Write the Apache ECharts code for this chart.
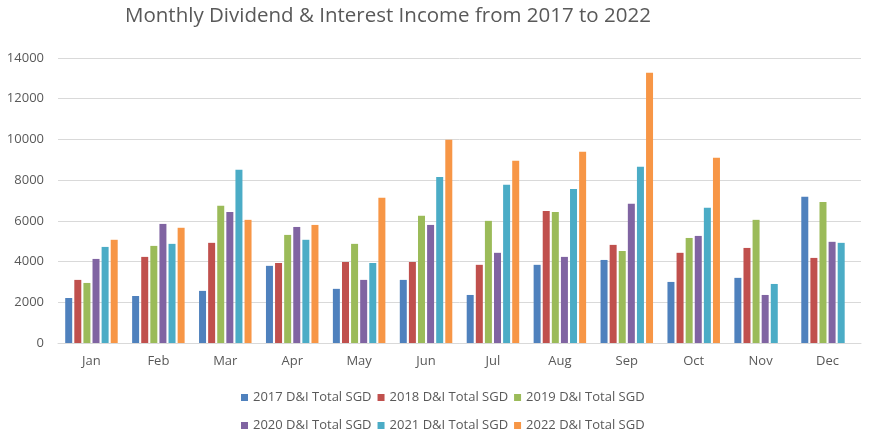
<!DOCTYPE html>
<html>
<head>
<meta charset="utf-8">
<script src="https://cdn.jsdelivr.net/npm/echarts@6/dist/echarts.min.js"></script>
<style>html,body{margin:0;padding:0;background:#fff}#c{width:878px;height:442px}</style>
</head>
<body>
<div id="c"></div>
<script>
const months = ["Jan","Feb","Mar","Apr","May","Jun","Jul","Aug","Sep","Oct","Nov","Dec"];
const seriesNames = ["2017 D&I Total SGD","2018 D&I Total SGD","2019 D&I Total SGD","2020 D&I Total SGD","2021 D&I Total SGD","2022 D&I Total SGD"];
const y2017 = [2210,2310,2560,3790,2660,3100,2360,3840,4080,3000,3200,7180];
const y2018 = [3100,4230,4920,3930,3980,3980,3840,6490,4820,4430,4670,4180];
const y2019 = [2950,4770,6740,5310,4870,6250,6000,6440,4520,5160,6050,6930];
const y2020 = [4130,5850,6440,5700,3100,5800,4430,4230,6840,5260,2360,4970];
const y2021 = [4720,4870,8510,5070,3930,8160,7770,7570,8660,6640,2900,4920];
const y2022 = [5070,5660,6050,5800,7130,9980,8950,9390,13280,9100,null,null];
const colors = ["#4f81bd","#c0504d","#9bbb59","#8064a2","#4bacc6","#f79646"];
const allData = [y2017,y2018,y2019,y2020,y2021,y2022];

const font = "'Open Sans', 'Liberation Sans', sans-serif";
const chart = echarts.init(document.getElementById('c'));
const legendText = {fontFamily: font, fontSize: 13, color: '#595959'};
chart.setOption({
  animation: false,
  color: colors,
  title: {
    text: "Monthly Dividend & Interest Income from 2017 to 2022",
    left: 120, top: 1,
    textStyle: {fontFamily: font, fontSize: 20.5, fontWeight: 'normal', color: '#595959'}
  },
  legend: [
    {data: seriesNames.slice(0,3), left: 236, top: 386, itemWidth: 7, itemHeight: 7, itemGap: 6,
     icon: 'rect', textStyle: legendText},
    {data: seriesNames.slice(3,6), left: 236, top: 414, itemWidth: 7, itemHeight: 7, itemGap: 6,
     icon: 'rect', textStyle: legendText}
  ],
  grid: {left: 58, right: 17, top: 58, bottom: 99, containLabel: false},
  xAxis: {
    type: 'category', data: months,
    axisLine: {lineStyle: {color: '#d9d9d9'}},
    axisTick: {show: false},
    axisLabel: {fontFamily: font, fontSize: 13, color: '#595959', margin: 12}
  },
  yAxis: {
    type: 'value', min: 0, max: 14000, interval: 2000,
    axisLine: {show: false}, axisTick: {show: false},
    splitLine: {lineStyle: {color: '#d9d9d9'}},
    axisLabel: {fontFamily: font, fontSize: 13, color: '#595959', margin: 14,
                formatter: v => String(v)}
  },
  series: allData.map((d, i) => ({
    name: seriesNames[i], type: 'bar', data: d,
    barWidth: 7, barGap: '30%', barCategoryGap: '22%'
  }))
});
</script>
</body>
</html>
